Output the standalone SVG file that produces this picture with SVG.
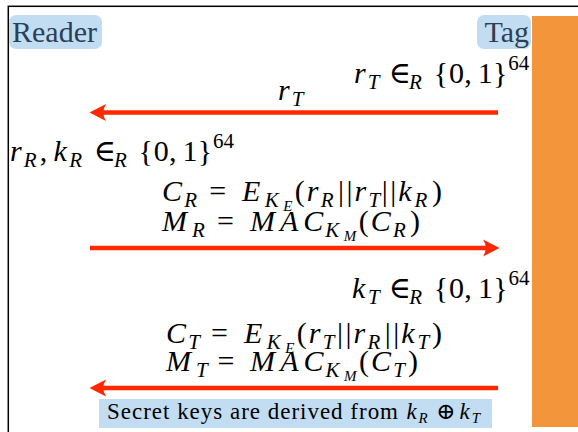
<svg xmlns="http://www.w3.org/2000/svg" width="578" height="432" viewBox="0 0 578 432">
<style>
.t{font-family:"Liberation Serif","DejaVu Serif",serif;font-size:30px;fill:#000}
.i{font-style:italic}
.s{font-size:21px}
.ss{font-size:15px}
.sym{font-family:"DejaVu Serif",serif;font-style:normal}
.lbl{font-family:"Liberation Serif","DejaVu Serif",serif;font-size:30px;fill:#2b4057}
.box{fill:#c2ddf2}
.arr{stroke:#ff2800;stroke-width:4.4;fill:none}
.head{fill:#ff2800}
</style>
<defs>
<path id="hd" d="M0,0 L-16.5,-8.5 Q-11,0 -16.5,8.5 Z"/>
</defs>
<rect x="8.3" y="6.3" width="600" height="500" fill="none" stroke="#000" stroke-width="1.5"/>
<rect x="532" y="16" width="50" height="411" fill="#f3953a"/>
<g id="reader">
<rect class="box" x="9" y="15" width="93" height="34" rx="7"/>
<text class="lbl" x="12" y="42">Reader</text>
</g>
<g id="tag">
<rect class="box" x="477" y="15" width="54" height="34" rx="7"/>
<text class="lbl" x="529" y="42" text-anchor="end">Tag</text>
</g>
<g id="texts" class="t">
<text y="83"><tspan class="i" x="354">r</tspan><tspan class="s i" x="367.8" y="89">T</tspan><tspan class="sym" x="388.7" y="83">∈</tspan><tspan class="s i" x="409" y="89">R</tspan><tspan x="433.7" y="83">{</tspan><tspan x="449">0</tspan><tspan x="464.2">,</tspan><tspan x="477.8">1</tspan><tspan x="493">}</tspan><tspan class="s" x="508.3" y="70">64</tspan></text>
<text y="100"><tspan class="i" x="278">r</tspan><tspan class="s i" x="291.7" y="106">T</tspan></text>
<text y="161"><tspan class="i" x="10">r</tspan><tspan class="s i" x="23.7" y="167">R</tspan><tspan x="39.8" y="161">,</tspan><tspan class="i" x="53.4">k</tspan><tspan class="s i" x="69.2" y="167">R</tspan><tspan class="sym" x="93.8" y="161">∈</tspan><tspan class="s i" x="114" y="167">R</tspan><tspan x="138.6" y="161">{</tspan><tspan x="153.8">0</tspan><tspan x="169">,</tspan><tspan x="182.5">1</tspan><tspan x="197.7">}</tspan><tspan class="s" x="212.9" y="148">64</tspan></text>
<text y="201"><tspan class="i" x="162">C</tspan><tspan class="s i" x="184.2" y="207">R</tspan><tspan x="209.2" y="201">=</tspan><tspan class="i" x="242">E</tspan><tspan class="s i" x="264.8" y="207">K</tspan><tspan class="ss i" x="283.2" y="211">E</tspan><tspan x="294.7" y="201">(</tspan><tspan class="i" x="306.7">r</tspan><tspan class="s i" x="320.7" y="207">R</tspan><tspan x="338" y="201">|</tspan><tspan x="346.4">|</tspan><tspan class="i" x="354.4">r</tspan><tspan class="s i" x="368.4" y="207">T</tspan><tspan x="381.8" y="201">|</tspan><tspan x="390.2">|</tspan><tspan class="i" x="398.3">k</tspan><tspan class="s i" x="414.4" y="207">R</tspan><tspan x="432" y="201">)</tspan></text>
<text y="231"><tspan class="i" x="162">M</tspan><tspan class="s i" x="192.1" y="237">R</tspan><tspan x="217.1" y="231">=</tspan><tspan class="i" x="249.9">M</tspan><tspan class="i" x="279.9">A</tspan><tspan class="i" x="303.2">C</tspan><tspan class="s i" x="325.3" y="237">K</tspan><tspan class="ss i" x="343.8" y="241">M</tspan><tspan x="358.8" y="231">(</tspan><tspan class="i" x="370.8">C</tspan><tspan class="s i" x="393" y="237">R</tspan><tspan x="410" y="231">)</tspan></text>
<text y="298"><tspan class="i" x="352">k</tspan><tspan class="s i" x="367.9" y="304">T</tspan><tspan class="sym" x="388.8" y="298">∈</tspan><tspan class="s i" x="409.2" y="304">R</tspan><tspan x="433.8" y="298">{</tspan><tspan x="449.1">0</tspan><tspan x="464.3">,</tspan><tspan x="477.9">1</tspan><tspan x="493.2">}</tspan><tspan class="s" x="508.4" y="285">64</tspan></text>
<text y="343"><tspan class="i" x="166">C</tspan><tspan class="s i" x="188.2" y="349">T</tspan><tspan x="211" y="343">=</tspan><tspan class="i" x="244">E</tspan><tspan class="s i" x="266.8" y="349">K</tspan><tspan class="ss i" x="285.2" y="353">E</tspan><tspan x="296.7" y="343">(</tspan><tspan class="i" x="308.7">r</tspan><tspan class="s i" x="322.7" y="349">T</tspan><tspan x="337" y="343">|</tspan><tspan x="345.4">|</tspan><tspan class="i" x="353.5">r</tspan><tspan class="s i" x="367.5" y="349">R</tspan><tspan x="384.8" y="343">|</tspan><tspan x="393.2">|</tspan><tspan class="i" x="401.3">k</tspan><tspan class="s i" x="417.4" y="349">T</tspan><tspan x="432" y="343">)</tspan></text>
<text y="371"><tspan class="i" x="166">M</tspan><tspan class="s i" x="196.1" y="377">T</tspan><tspan x="217.4" y="371">=</tspan><tspan class="i" x="250.1">M</tspan><tspan class="i" x="280.2">A</tspan><tspan class="i" x="303.4">C</tspan><tspan class="s i" x="325.6" y="377">K</tspan><tspan class="ss i" x="344" y="381">M</tspan><tspan x="359" y="371">(</tspan><tspan class="i" x="371.1">C</tspan><tspan class="s i" x="393.3" y="377">T</tspan><tspan x="408" y="371">)</tspan></text>
</g>
<g id="note">
<rect class="box" x="99" y="399" width="393" height="29"/>
<text class="t" y="419" style="font-size:23px"><tspan x="107" textLength="291" lengthAdjust="spacing">Secret keys are derived from</tspan><tspan class="i" x="406.4">k</tspan><tspan class="ss i" x="418.5" y="423">R</tspan><tspan class="sym" x="436.1" y="419">⊕</tspan><tspan class="i" x="459.5">k</tspan><tspan class="ss i" x="471.7" y="423">T</tspan></text>
</g>
<g id="connectors">
<line class="arr" x1="498" y1="112.5" x2="100" y2="112.5"/>
<use href="#hd" class="head" transform="translate(89.5,112.5) rotate(180)"/>
<line class="arr" x1="90" y1="248" x2="489" y2="248"/>
<use href="#hd" class="head" transform="translate(499.5,248)"/>
<line class="arr" x1="498" y1="388" x2="100" y2="388"/>
<use href="#hd" class="head" transform="translate(89.5,388) rotate(180)"/>
</g>
</svg>
